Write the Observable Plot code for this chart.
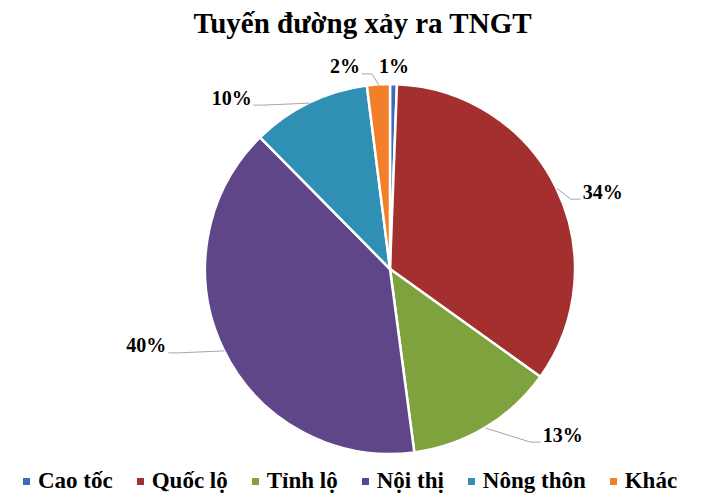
<!DOCTYPE html>
<html>
<head>
<meta charset="utf-8">
<script src="https://cdn.jsdelivr.net/npm/d3@7"></script>
<script src="https://cdn.jsdelivr.net/npm/@observablehq/plot@0.6"></script>
<style>
html, body { margin: 0; padding: 0; background: #fff; }
#wrap { width: 717px; height: 502px; overflow: hidden; }
#title { height: 48px; line-height: 46px; text-align: center; font-family: 'Liberation Serif', serif; font-weight: bold; font-size: 29px; color: #000; padding-left: 8px; box-sizing: border-box; white-space: nowrap; }
#chart svg { display: block; }
#legend { height: 42px; padding-left: 23px; box-sizing: border-box; }
#legend, #legend * { font-family: 'Liberation Serif', serif !important; }
.lg-swatches { font-size: 23px !important; font-weight: bold !important; color: #000 !important; margin: 0 !important; height: 42px; display: flex !important; align-items: center !important; flex-wrap: nowrap !important; min-height: 0 !important; white-space: nowrap; }
.lg-swatch { display: inline-flex !important; align-items: center !important; margin-right: 24px !important; font-size: 23px !important; font-weight: bold !important; }
.lg-swatch > svg { margin-right: 8px !important; }
#chart text { font-family: 'Liberation Serif', serif; }
</style>
</head>
<body>
<div id="wrap">
  <div id="title">Tuyến đường xảy ra TNGT</div>
  <div id="chart"></div>
  <div id="legend"></div>
</div>
<script>
// ---- data ----
const categories = ["Cao tốc", "Quốc lộ", "Tỉnh lộ", "Nội thị", "Nông thôn", "Khác"];
const shares = [0.6, 34.3, 13.0, 39.7, 10.4, 2.0];
const colors = ["#3B6CB7", "#A32F2F", "#7EA23E", "#5F4689", "#3090B3", "#F27F29"];

// ---- layout ----
const W = 717, H = 412, CX = 390, CY = 221, R = 185;
const FS = 20;
// label centre relative to the outer mid point of its slice
const labelOffsets = [[0, -18], [46, 4], [77, 7], [-78, -5], [-78, -5], [-34, -18]];
const drawLeader = [false, true, true, true, true, true];

const rows = categories.map((c, i) => ({category: c, value: shares[i]}));
const arcs = d3.pie().sort(null).value(d => d.value).startAngle(0).endAngle(2 * Math.PI)(rows);
const color = Plot.scale({color: {type: "ordinal", domain: categories, range: colors}});

const labelRows = [];
const leaderPts = [];
arcs.forEach((a, i) => {
  const m = (a.startAngle + a.endAngle) / 2;
  const ex = CX + R * Math.sin(m), ey = CY - R * Math.cos(m);
  const [dx, dy] = labelOffsets[i];
  const lx = ex + dx, ly = ey + dy;
  const text = Math.round(a.data.value) + "%";
  labelRows.push({lx, ly, text});
  if (drawLeader[i]) {
    const w = ((text.length - 1) * 0.5 + 1) * FS;
    const sign = dx > 0 ? 1 : -1;
    const side = lx - sign * w / 2;
    const bottom = ly + 7;
    leaderPts.push({id: i, x: ex, y: ey});
    leaderPts.push({id: i, x: side - sign * 12, y: bottom});
    leaderPts.push({id: i, x: side - sign * 2, y: bottom});
  }
});

function slices(index, scales) {
  const tx = scales && scales.x ? scales.x(CX) : CX;
  const ty = scales && scales.y ? scales.y(CY) : CY;
  const arc = d3.arc().innerRadius(0).outerRadius(R);
  const g = d3.create("svg:g").attr("transform", `translate(${tx},${ty})`);
  g.selectAll("path").data(arcs).join("path")
    .attr("d", arc)
    .attr("fill", d => color.apply(d.data.category))
    .attr("stroke", "#fff")
    .attr("stroke-width", 2.5)
    .attr("stroke-linejoin", "round");
  return g.node();
}

const chart = Plot.plot({
  width: W,
  height: H,
  margin: 0,
  style: {background: "#fff"},
  x: {type: "identity", axis: null},
  y: {type: "identity", axis: null},
  marks: [
    slices,
    Plot.line(leaderPts, {x: "x", y: "y", z: "id", stroke: "#a6a6a6", strokeWidth: 1, strokeLinecap: "butt"}),
    Plot.text(labelRows, {x: "lx", y: "ly", text: "text", fontSize: FS, fontWeight: "bold", fontFamily: "'Liberation Serif', serif", fill: "#000"})
  ]
});
document.getElementById("chart").appendChild(chart);

const legend = Plot.legend({
  color: {type: "ordinal", domain: categories, range: colors},
  legend: "swatches",
  swatchSize: 7,
  className: "lg"
});
document.getElementById("legend").appendChild(legend);
</script>
</body>
</html>
